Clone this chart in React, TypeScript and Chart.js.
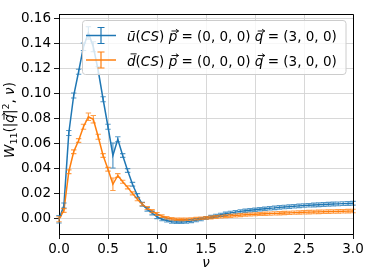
import React, { useEffect, useRef } from "react";
import { Chart, registerables } from "chart.js";

Chart.register(...registerables);

const nuValues = [
  0.0, 0.05, 0.1, 0.15, 0.2, 0.25, 0.3, 0.35, 0.4, 0.45,
  0.5, 0.55, 0.6, 0.65, 0.7, 0.75, 0.8, 0.85, 0.9, 0.95,
  1.0, 1.05, 1.1, 1.15, 1.2, 1.25, 1.3, 1.35, 1.4, 1.45,
  1.5, 1.55, 1.6, 1.65, 1.7, 1.75, 1.8, 1.85, 1.9, 1.95,
  2.0, 2.05, 2.1, 2.15, 2.2, 2.25, 2.3, 2.35, 2.4, 2.45,
  2.5, 2.55, 2.6, 2.65, 2.7, 2.75, 2.8, 2.85, 2.9, 2.95,
  3.0,
];

const uBarValues = [
  -0.001, 0.010, 0.068, 0.098, 0.117, 0.137, 0.148, 0.137, 0.118, 0.095,
  0.073, 0.050, 0.063, 0.050, 0.038, 0.027, 0.018, 0.011, 0.007, 0.004,
  0.001, -0.001, -0.002, -0.003, -0.0032, -0.0032, -0.003, -0.0025, -0.0018, -0.001,
  0.0, 0.0009, 0.0018, 0.0026, 0.0034, 0.0041, 0.0047, 0.0053, 0.0058, 0.0062,
  0.0066, 0.0070, 0.0074, 0.0078, 0.0081, 0.0085, 0.0088, 0.0091, 0.0094, 0.0097,
  0.0100, 0.0102, 0.0104, 0.0106, 0.0108, 0.0110, 0.0112, 0.0113, 0.0115, 0.0116,
  0.0118,
];

const uBarErrors = [
  0.003, 0.002, 0.002, 0.002, 0.002, 0.003, 0.005, 0.004, 0.003, 0.002,
  0.002, 0.010, 0.002, 0.0015, 0.0015, 0.0015, 0.0015, 0.0015, 0.0015, 0.0015,
  0.0015, 0.0012, 0.0012, 0.0012, 0.0012, 0.0012, 0.0012, 0.0012, 0.0012, 0.0012,
  0.0012, 0.0012, 0.0012, 0.0012, 0.0013, 0.0013, 0.0013, 0.0013, 0.0013, 0.0013,
  0.0013, 0.0013, 0.0013, 0.0014, 0.0014, 0.0014, 0.0014, 0.0014, 0.0014, 0.0014,
  0.0014, 0.0014, 0.0015, 0.0015, 0.0015, 0.0015, 0.0015, 0.0015, 0.0015, 0.0015,
  0.0015,
];

const dBarValues = [
  -0.001, 0.006, 0.037, 0.053, 0.062, 0.073, 0.081, 0.079, 0.065, 0.050,
  0.039, 0.027, 0.034, 0.029, 0.0245, 0.0197, 0.015, 0.011, 0.008, 0.0055,
  0.0032, 0.0015, 0.0002, -0.0006, -0.001, -0.0011, -0.001, -0.0008, -0.0005, -0.0002,
  0.0001, 0.0004, 0.0008, 0.0011, 0.0014, 0.0017, 0.0020, 0.0023, 0.0026, 0.0028,
  0.0030, 0.0032, 0.0034, 0.0035, 0.0037, 0.0038, 0.0040, 0.0041, 0.0043, 0.0044,
  0.0046, 0.0047, 0.0048, 0.0049, 0.0050, 0.0051, 0.0052, 0.0053, 0.0054, 0.0055,
  0.0056,
];

const dBarErrors = [
  0.002, 0.0015, 0.0015, 0.0015, 0.0015, 0.002, 0.003, 0.003, 0.002, 0.0015,
  0.0015, 0.005, 0.0015, 0.0012, 0.0012, 0.0012, 0.0012, 0.0012, 0.0012, 0.0012,
  0.0012, 0.001, 0.001, 0.001, 0.001, 0.001, 0.001, 0.001, 0.001, 0.001,
  0.001, 0.0011, 0.0011, 0.0011, 0.0011, 0.0012, 0.0012, 0.0012, 0.0012, 0.0012,
  0.0012, 0.0012, 0.0013, 0.0013, 0.0013, 0.0013, 0.0013, 0.0013, 0.0013, 0.0013,
  0.0014, 0.0014, 0.0014, 0.0014, 0.0014, 0.0014, 0.0014, 0.0014, 0.0014, 0.0014,
  0.0014,
];

const xTickValues = [0, 0.5, 1.0, 1.5, 2.0, 2.5, 3.0];
const xTickLabels = ["0.0", "0.5", "1.0", "1.5", "2.0", "2.5", "3.0"];
const yTickValues = [0, 0.02, 0.04, 0.06, 0.08, 0.1, 0.12, 0.14, 0.16];
const yTickLabels = ["0.00", "0.02", "0.04", "0.06", "0.08", "0.10", "0.12", "0.14", "0.16"];

const BLUE = "#1f77b4";
const ORANGE = "#ff7f0e";
const FONT = "'DejaVu Sans'";
const FS = 13.5;

type Seg = { t: string; it?: boolean; sz?: number; dy?: number; arrow?: boolean; bar?: boolean };

function drawSegs(ctx: CanvasRenderingContext2D, segs: Seg[], x: number, y: number, measureOnly = false) {
  let cx = x;
  for (const s of segs) {
    const sz = s.sz ?? FS;
    ctx.font = `${s.it ? "italic " : ""}${sz}px ${FONT}`;
    const w = ctx.measureText(s.t).width;
    if (!measureOnly) {
      ctx.fillText(s.t, cx, y + (s.dy ?? 0));
      if (s.arrow) {
        const ay = y - sz * 0.74;
        const x0 = cx + w * 0.22 + 1;
        const x1 = cx + w * 0.98 + 1.5;
        ctx.save();
        ctx.strokeStyle = ctx.fillStyle as string;
        ctx.lineWidth = 0.9;
        ctx.beginPath();
        ctx.moveTo(x0, ay);
        ctx.lineTo(x1, ay);
        ctx.moveTo(x1 - 2.6, ay - 1.8);
        ctx.lineTo(x1, ay);
        ctx.lineTo(x1 - 2.6, ay + 1.8);
        ctx.stroke();
        ctx.restore();
      }
      if (s.bar) {
        const ay = y - sz * 0.86;
        ctx.save();
        ctx.strokeStyle = ctx.fillStyle as string;
        ctx.lineWidth = 0.9;
        ctx.beginPath();
        ctx.moveTo(cx + w * 0.3 + 1, ay);
        ctx.lineTo(cx + w * 0.95 + 1.5, ay);
        ctx.stroke();
        ctx.restore();
      }
    }
    cx += w;
  }
  return cx - x;
}

const legendItems: { color: string; segs: Seg[] }[] = [
  {
    color: BLUE,
    segs: [
      { t: "\u016B", it: true }, { t: "(" }, { t: "CS", it: true }, { t: ") " },
      { t: "p", it: true, arrow: true }, { t: " = (0, 0, 0) " }, { t: "q", it: true, arrow: true }, { t: " = (3, 0, 0)" },
    ],
  },
  {
    color: ORANGE,
    segs: [
      { t: "d", it: true, bar: true }, { t: "(" }, { t: "CS", it: true }, { t: ") " },
      { t: "p", it: true, arrow: true }, { t: " = (0, 0, 0) " }, { t: "q", it: true, arrow: true }, { t: " = (3, 0, 0)" },
    ],
  },
];

const errorBarPlugin = {
  id: "errorBars",
  afterDatasetsDraw(chart: any) {
    const ctx = chart.ctx as CanvasRenderingContext2D;
    const xs = chart.scales.x;
    const ys = chart.scales.y;
    const sets = [
      { vals: uBarValues, errs: uBarErrors, color: "rgba(31,119,180,0.75)" },
      { vals: dBarValues, errs: dBarErrors, color: "rgba(255,127,14,0.75)" },
    ];
    ctx.save();
    ctx.lineWidth = 1.2;
    for (const s of sets) {
      ctx.strokeStyle = s.color;
      for (let i = 0; i < nuValues.length; i++) {
        const px = xs.getPixelForValue(nuValues[i]);
        const top = ys.getPixelForValue(s.vals[i] + s.errs[i]);
        const bot = ys.getPixelForValue(s.vals[i] - s.errs[i]);
        ctx.beginPath();
        ctx.moveTo(px, top);
        ctx.lineTo(px, bot);
        ctx.moveTo(px - 2.7, top);
        ctx.lineTo(px + 2.7, top);
        ctx.moveTo(px - 2.7, bot);
        ctx.lineTo(px + 2.7, bot);
        ctx.stroke();
      }
    }
    ctx.restore();
  },
};

const decorPlugin = {
  id: "decor",
  afterDraw(chart: any) {
    const ctx = chart.ctx as CanvasRenderingContext2D;
    const a = chart.chartArea;
    ctx.save();
    ctx.strokeStyle = "#000";
    ctx.lineWidth = 1;
    ctx.beginPath();
    ctx.moveTo(a.left, a.top + 0.5);
    ctx.lineTo(a.right + 0.5, a.top + 0.5);
    ctx.lineTo(a.right + 0.5, a.bottom);
    ctx.stroke();

    const lx = 82.5, ly = 20.5, lw = 263.5, lh = 54;
    ctx.beginPath();
    const r = 3;
    ctx.moveTo(lx + r, ly);
    ctx.lineTo(lx + lw - r, ly);
    ctx.arcTo(lx + lw, ly, lx + lw, ly + r, r);
    ctx.lineTo(lx + lw, ly + lh - r);
    ctx.arcTo(lx + lw, ly + lh, lx + lw - r, ly + lh, r);
    ctx.lineTo(lx + r, ly + lh);
    ctx.arcTo(lx, ly + lh, lx, ly + lh - r, r);
    ctx.lineTo(lx, ly + r);
    ctx.arcTo(lx, ly, lx + r, ly, r);
    ctx.closePath();
    ctx.fillStyle = "rgba(255,255,255,0.8)";
    ctx.fill();
    ctx.strokeStyle = "#cccccc";
    ctx.stroke();

    const rows = [35.5, 60];
    legendItems.forEach((item, k) => {
      const cy = rows[k];
      ctx.strokeStyle = item.color;
      ctx.lineWidth = 1.5;
      ctx.beginPath();
      ctx.moveTo(86, cy);
      ctx.lineTo(116, cy);
      ctx.stroke();
      ctx.lineWidth = 1.2;
      ctx.beginPath();
      ctx.moveTo(101, cy - 8);
      ctx.lineTo(101, cy + 8);
      ctx.moveTo(97.5, cy - 8);
      ctx.lineTo(104.5, cy - 8);
      ctx.moveTo(97.5, cy + 8);
      ctx.lineTo(104.5, cy + 8);
      ctx.stroke();
      ctx.fillStyle = "#000";
      ctx.textBaseline = "alphabetic";
      ctx.textAlign = "left";
      drawSegs(ctx, item.segs, 127, cy + 5.5);
    });

    ctx.fillStyle = "#000";
    ctx.textAlign = "left";
    ctx.textBaseline = "middle";
    ctx.font = `italic ${FS}px ${FONT}`;
    const nw = ctx.measureText("\u03BD").width;
    ctx.fillText("\u03BD", (a.left + a.right) / 2 - nw / 2, 263);

    const ySegs: Seg[] = [
      { t: "W", it: true }, { t: "11", sz: 9.5, dy: 3 }, { t: "(|" }, { t: "q", it: true, arrow: true },
      { t: "|" }, { t: "2", sz: 9.5, dy: -5 }, { t: ", " }, { t: "\u03BD", it: true }, { t: ")" },
    ];
    ctx.translate(14, (a.top + a.bottom) / 2 - 4);
    ctx.rotate(-Math.PI / 2);
    ctx.textBaseline = "alphabetic";
    const w = drawSegs(ctx, ySegs, 0, 0, true);
    drawSegs(ctx, ySegs, -w / 2, 0);
    ctx.restore();
  },
};

export default function App() {
  const ref = useRef<HTMLCanvasElement | null>(null);
  useEffect(() => {
    if (!ref.current) return;
    const chart = new Chart(ref.current, {
      type: "line",
      data: {
        datasets: [
          {
            label: "u",
            data: nuValues.map((x, i) => ({ x, y: uBarValues[i] })),
            borderColor: BLUE,
            borderWidth: 1.5,
            pointRadius: 0,
            tension: 0,
            order: 2,
          },
          {
            label: "d",
            data: nuValues.map((x, i) => ({ x, y: dBarValues[i] })),
            borderColor: ORANGE,
            borderWidth: 1.5,
            pointRadius: 0,
            tension: 0,
            order: 1,
          },
        ],
      },
      options: {
        animation: false,
        responsive: false,
        layout: { padding: { top: 14, right: 21, left: 0, bottom: 0 } },
        plugins: { legend: { display: false }, tooltip: { enabled: false } },
        scales: {
          x: {
            type: "linear",
            min: 0,
            max: 3,
            afterBuildTicks: (s: any) => {
              s.ticks = xTickValues.map((v) => ({ value: v }));
            },
            afterFit: (s: any) => {
              s.height = 46;
            },
            ticks: {
              color: "#000",
              font: { family: FONT, size: FS },
              padding: 2,
              maxRotation: 0,
              callback: (v: any) => {
                const i = xTickValues.findIndex((t) => Math.abs(t - v) < 1e-9);
                return i >= 0 ? xTickLabels[i] : "";
              },
            },
            grid: { color: "#d4d4d4", lineWidth: 0.9, tickColor: "#000", tickLength: 5 },
            border: { display: true, color: "#000", width: 1 },
          },
          y: {
            type: "linear",
            min: -0.0128,
            max: 0.1632,
            afterBuildTicks: (s: any) => {
              s.ticks = yTickValues.map((v) => ({ value: v }));
            },
            afterFit: (s: any) => {
              s.width = 59;
            },
            ticks: {
              color: "#000",
              font: { family: FONT, size: FS },
              padding: 3,
              callback: (v: any) => {
                const i = yTickValues.findIndex((t) => Math.abs(t - v) < 1e-9);
                return i >= 0 ? yTickLabels[i] : "";
              },
            },
            grid: { color: "#d4d4d4", lineWidth: 0.9, tickColor: "#000", tickLength: 5 },
            border: { display: true, color: "#000", width: 1 },
          },
        },
      },
      plugins: [errorBarPlugin, decorPlugin],
    } as any);
    return () => chart.destroy();
  }, []);
  return (
    <div style={{ position: "absolute", left: 0, top: 0, width: 374, height: 280, background: "#fff" }}>
      <canvas ref={ref} width={374} height={280} style={{ display: "block" }} />
    </div>
  );
}
